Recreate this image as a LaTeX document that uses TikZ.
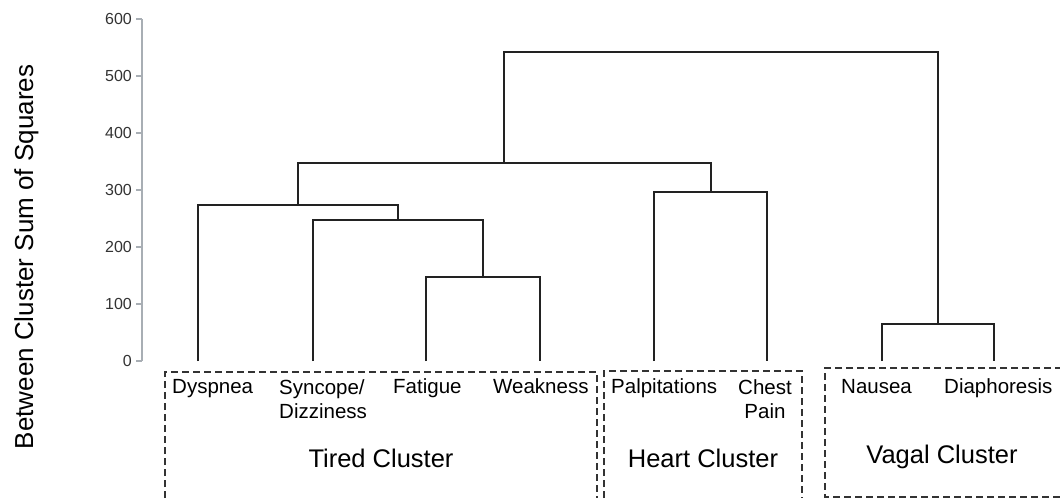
\documentclass[tikz,border=0pt]{standalone}
\usepackage{fontspec}
\setmainfont{Liberation Sans}
\definecolor{axisgray}{HTML}{A8AEB4}
\definecolor{ticktext}{HTML}{333333}
\definecolor{treeline}{HTML}{222222}
\begin{document}
\begin{tikzpicture}[x=1pt,y=-1pt,
  treelink/.style={draw=treeline,line width=1.3pt},
  axisline/.style={draw=axisgray,line width=1.2pt},
  ticklabel/.style={anchor=east,inner sep=0pt,text=ticktext,font=\fontsize{16}{18}\selectfont},
  leaflabel/.style={anchor=base west,inner sep=0pt,font=\fontsize{20.5}{24}\selectfont},
  twoline/.style={anchor=north west,inner sep=0pt,align=left,font=\fontsize{20.5}{24}\selectfont},
  clusterlabel/.style={anchor=base,inner sep=0pt,font=\fontsize{25.5}{30}\selectfont},
  clusterbox/.style={draw=black!80,line width=1.3pt,dash pattern=on 7pt off 4pt}]
\useasboundingbox[fill=white] (0,0) rectangle (1060,498);

% axis title
\node[rotate=90,anchor=base,inner sep=0pt,font=\fontsize{26}{30}\selectfont] (ytitle) at (33,257) {Between Cluster Sum of Squares};

% axis
\coordinate (atop) at (142,19);
\coordinate (abot) at (142,361);
\draw[axisline] (atop) -- (abot);
\foreach \v/\yy in {0/361,100/304,200/247,300/190,400/133,500/76,600/19}{
  \coordinate (t\v) at (136,\yy);
  \coordinate (tt\v) at (142,\yy);
  \draw[axisline] (t\v) -- (tt\v);
  \node[ticklabel] (tl\v) at (132,\yy) {\v};
}

% leaves
\coordinate (L1) at (198,361);
\coordinate (L2) at (313,361);
\coordinate (L3) at (426,361);
\coordinate (L4) at (540,361);
\coordinate (L5) at (654,361);
\coordinate (L6) at (767,361);
\coordinate (L7) at (882,361);
\coordinate (L8) at (994,361);

% merges
\coordinate (m1) at (483,277);
\coordinate (m2) at (398,220);
\coordinate (m3) at (298,205);
\coordinate (m4) at (711,192);
\coordinate (m5) at (504,163);
\coordinate (m6) at (938,324);
\coordinate (m7) at (721,52);

\draw[treelink] (L3) |- (m1) -| (L4);
\draw[treelink] (L2) |- (m2) -| (m1);
\draw[treelink] (L1) |- (m3) -| (m2);
\draw[treelink] (L5) |- (m4) -| (L6);
\draw[treelink] (m3) |- (m5) -| (m4);
\draw[treelink] (L7) |- (m6) -| (L8);
\draw[treelink] (m5) |- (m7) -| (m6);

% leaf labels
\node[leaflabel] (dys) at (172,393) {Dyspnea};
\node[twoline] (syn) at (279,379) {Syncope/\\Dizziness};
\node[leaflabel] (fat) at (393,393) {Fatigue};
\node[leaflabel] (wea) at (493,393) {Weakness};
\node[leaflabel] (pal) at (611,393) {Palpitations};
\node[twoline,anchor=north,align=center] (che) at (765,379) {Chest\\Pain};
\node[leaflabel] (nau) at (841,393) {Nausea};
\node[leaflabel] (dia) at (944,393) {Diaphoresis};

% cluster boxes
\draw[clusterbox] (165,498) -- (165,372) -- (597,372) -- (597,498);
\draw[clusterbox] (604,498) -- (604,371) -- (802,371) -- (802,498);
\draw[clusterbox] (1062,368) -- (825,368) -- (825,497) -- (1062,497);

% cluster labels
\node[clusterlabel] (tired) at (381,467) {Tired Cluster};
\node[clusterlabel] (heart) at (703,467) {Heart Cluster};
\node[clusterlabel] (vagal) at (942,463) {Vagal Cluster};
\end{tikzpicture}
\end{document}
